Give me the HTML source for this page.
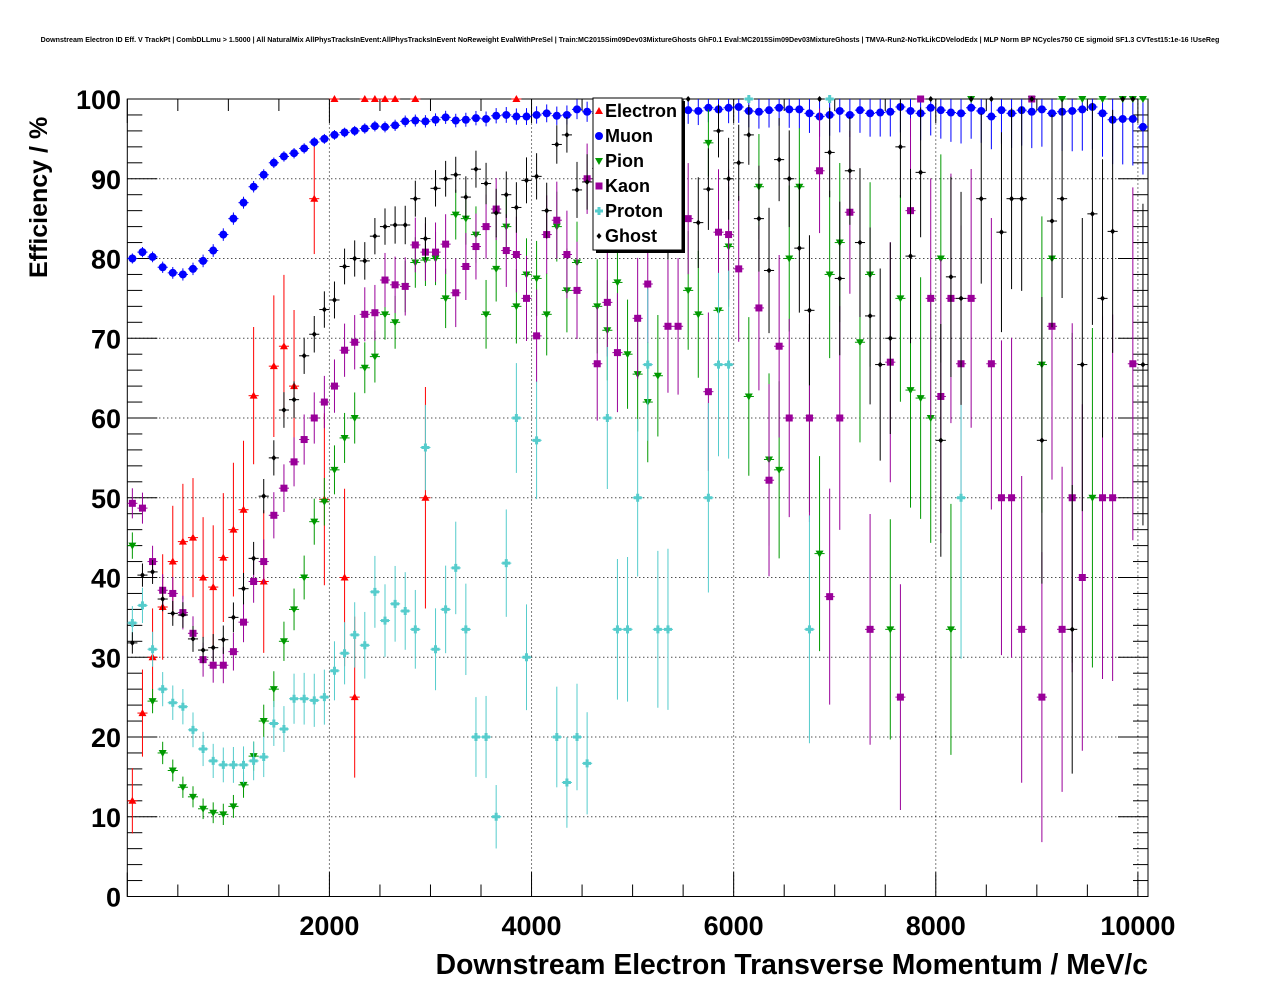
<!DOCTYPE html>
<html><head><meta charset="utf-8"><style>
body{margin:0;background:#fff;}
svg{display:block;font-family:"Liberation Sans",Arial,sans-serif;}
</style></head><body>
<svg id="chart" width="1276" height="996" viewBox="0 0 1276 996" xmlns="http://www.w3.org/2000/svg">
<rect width="1276" height="996" fill="#fff"/>
<text x="630" y="42" font-size="7.1" font-weight="bold" text-anchor="middle">Downstream Electron ID Eff. V TrackPt | CombDLLmu &gt; 1.5000 | All NaturalMix AllPhysTracksInEvent:AllPhysTracksInEvent NoReweight EvalWithPreSel | Train:MC2015Sim09Dev03MixtureGhosts GhF0.1 Eval:MC2015Sim09Dev03MixtureGhosts | TMVA-Run2-NoTkLikCDVelodEdx | MLP Norm BP NCycles750 CE sigmoid SF1.3 CVTest15:1e-16 !UseReg</text>
<g id="grid"></g>
<g id="axes"></g>
<g id="series"></g>
<text x="1148" y="974" font-size="28.3" font-weight="bold" text-anchor="end">Downstream Electron Transverse Momentum / MeV/c</text>
<text transform="translate(47,278) rotate(-90)" font-size="25" font-weight="bold">Efficiency / %</text>
<g id="legend"></g>
</svg>
<script>
const N=null;
const xTicks=[2000,4000,6000,8000,10000];
const yTicks=[0,10,20,30,40,50,60,70,80,90,100];
const seriesNames=["Electron","Muon","Pion","Kaon","Proton","Ghost"];
const muon=[80,80.8,80.2,78.9,78.2,78,78.7,79.7,81,83,85,87,89,90.5,92,92.8,93.2,93.8,94.6,95,95.5,95.8,96,96.3,96.6,96.5,96.7,97.2,97.3,97.2,97.4,97.7,97.3,97.4,97.6,97.5,97.9,98,97.8,97.8,98,98.2,97.9,98,98.7,98.4,98.2,98.6,98.5,98.7,98.8,98.5,98.4,98.7,98.6,98.6,98.5,98.9,98.7,98.9,99,98.5,98.4,98.6,98.9,98.7,98.7,98.2,97.8,98,98.5,98,98.6,98.2,98.3,98.4,99,98.5,98.2,98.9,98.6,98.3,98.2,98.9,98.5,97.8,98.6,98.2,98.6,98.4,98.7,98.2,98.4,98.5,98.7,99,98.2,97.4,97.5,97.5,96.5];
const electron=[12,23,30,36.3,42,44.5,45,40,38.8,42.5,46,48.5,62.8,39.5,66.5,69,64,N,87.5,49.8,100,40,25,100,100,100,100,N,100,50,N,N,N,N,N,N,N,N,100];
const pion=[44,N,24.5,18,15.8,13.7,12.5,11,10.5,10.3,11.3,14,17.6,22,26,32,36,40,47,49.5,53.5,57.5,60,66.3,67.7,73,72,76.5,79.5,79.8,80,75,85.5,85,83,73,78.7,84,74,78,77.5,73,84,76,79.5,N,74,71,77,68,65.5,62,65.3,N,N,76,73,94.5,73.5,81.5,N,62.7,89,54.8,53.5,80,89,60,43,78,82,N,69.5,78,N,33.5,75,63.5,62.5,60,80,33.5,N,100,N,N,N,N,N,100,66.7,80,100,50,100,50,100,N,100,100,100];
const kaon=[49.3,48.7,42,38.4,38,35.6,33,29.7,29,29,30.7,34.4,39.5,42,47.8,51.2,54.5,57.3,60,62,64,68.5,69.5,73,73.2,77.3,76.7,76.5,81.7,80.8,80.8,81.8,75.7,79,81.5,84,86.2,81,80.5,75,70.3,83,84.8,80.5,76,90,66.8,74.5,68.2,N,72.5,76.8,N,71.5,71.5,85,N,63.3,83.3,83,78.7,N,73.8,52.2,69,60,N,60,91,37.6,60,85.8,N,33.5,N,67,25,86,100,75,62.7,75,66.8,75,N,66.8,50,50,33.5,100,25,71.5,33.5,50,40,N,50,50,N,66.8,N];
const proton=[34.3,36.5,31,26,24.3,23.8,20.9,18.5,17,16.5,16.5,16.5,17,17.5,21.7,21,24.8,24.8,24.6,25,28.3,30.5,32.8,31.5,38.2,34.6,36.7,35.8,33.5,56.3,31,36,41.2,33.5,20,20,10,41.8,60,30,57.2,N,20,14.3,20,16.7,N,60,33.5,33.5,50,66.7,33.5,33.5,N,N,N,50,66.7,66.7,N,100,N,N,N,N,N,33.5,N,100,N,N,N,N,N,N,N,N,N,N,N,N,50];
const ghost=[31.8,40.3,40.7,37.3,35.5,35.3,32.3,30.9,31.2,32.2,35,38.6,42.4,50.2,55,61,62.3,67.8,70.5,73.6,74.8,79,80,79.7,82.8,84,84.2,84.2,87.5,82.5,88.8,90,90.5,87.7,91.2,89.4,85.7,88,86.4,89.8,90.3,86,94.3,95.5,88.6,89.6,91.3,88,91,89,87.6,86.7,92,85,95,100,84.5,88.7,96,90,92,95.5,85,78.5,92.4,90,81.3,73.5,100,93.3,77.5,91,82,72.8,66.7,70,94,80.3,90.8,100,57.2,77.7,75,100,87.5,100,83.3,87.5,87.5,100,57.2,84.7,87.5,33.5,66.7,85.6,75,83.4,100,100,66.7];
const statScale=[60,4000,900,700,500,1200];

const XMAX=10100;
const X0=127.3,X1=1148,Y0=896.5,Y1=99;
const xs=v=>X0+(v/XMAX)*(X1-X0);
const ys=v=>Y0-(v/100)*(Y0-Y1);
const NS="http://www.w3.org/2000/svg";
function mk(tag,attrs,parent){const e=document.createElementNS(NS,tag);for(const k in attrs)e.setAttribute(k,attrs[k]);parent.appendChild(e);return e;}
const grid=document.getElementById('grid'),axes=document.getElementById('axes'),ser=document.getElementById('series'),leg=document.getElementById('legend');

xTicks.forEach(t=>{const l=mk('line',{x1:xs(t),x2:xs(t),y1:Y0,y2:Y1,stroke:'#000','stroke-width':1,'stroke-dasharray':'1,3'},grid);

});
yTicks.forEach(t=>{const l=mk('line',{x1:X0,x2:X1,y1:ys(t),y2:ys(t),stroke:'#000','stroke-width':1,'stroke-dasharray':'1,3'},grid);

});

const fr=mk('rect',{x:X0,y:Y1,width:X1-X0,height:Y0-Y1,fill:'none',stroke:'#000','stroke-width':1},axes);


for(let v=0;v<=10000;v+=500){const big=v%2000===0;mk('line',{x1:xs(v),x2:xs(v),y1:Y0,y2:Y0-(big?24:12),stroke:'#000'},axes);
 mk('line',{x1:xs(v),x2:xs(v),y1:Y1,y2:Y1+(big?24:12),stroke:'#000'},axes);}
for(let v=0;v<=100;v+=2){const big=v%10===0;mk('line',{x1:X0,x2:X0+(big?30:15),y1:ys(v),y2:ys(v),stroke:'#000'},axes);
 mk('line',{x1:X1,x2:X1-(big?30:15),y1:ys(v),y2:ys(v),stroke:'#000'},axes);}
xTicks.forEach(t=>{const tx=mk('text',{x:xs(t),y:935,'font-size':27,'font-weight':'bold','text-anchor':'middle'},axes);tx.textContent=t;

});
yTicks.forEach(t=>{const tx=mk('text',{x:121,y:ys(t)+10,'font-size':27,'font-weight':'bold','text-anchor':'end'},axes);tx.textContent=t;

});

const colors=['#ff0000','#0000ff','#009900','#990099','#55cccc','#000000'];
function marker(type,cx,cy,col,parent){
  if(type===0)return mk('polygon',{points:`${cx},${cy-4} ${cx-4},${cy+3} ${cx+4},${cy+3}`,fill:col},parent);
  if(type===1)return mk('circle',{cx:cx,cy:cy,r:4,fill:col},parent);
  if(type===2)return mk('polygon',{points:`${cx-4},${cy-3} ${cx+4},${cy-3} ${cx},${cy+4}`,fill:col},parent);
  if(type===3)return mk('rect',{x:cx-3.5,y:cy-3.5,width:7,height:7,fill:col},parent);
  if(type===4)return mk('path',{d:`M${cx-4},${cy-1.5}h2.5v-2.5h3v2.5h2.5v3h-2.5v2.5h-3v-2.5h-2.5z`,fill:col},parent);
  return mk('polygon',{points:`${cx},${cy-3} ${cx+2.5},${cy} ${cx},${cy+3} ${cx-2.5},${cy}`,fill:col},parent);
}
const all=[electron,muon,pion,kaon,proton,ghost];
all.forEach((arr,si)=>{
  const g=mk('g',{},ser);
  
  
  const col=colors[si];
  arr.forEach((v,i)=>{
    if(v===null||v===undefined)return;
    const xc=(i+0.5)*100;
    const cx=xs(xc),cy=ys(v);
    const n=statScale[si]*Math.pow(0.94,i)+3;
    let e=100*Math.sqrt(Math.max(v*(100-v),400)/1e4/n);
    if(v>=99.9)e=0;
    const top=Math.min(100,v+e),bot=Math.max(0,v-e);
    mk('line',{x1:cx,x2:cx,y1:ys(top),y2:ys(bot),stroke:col,'stroke-width':1},g);
    mk('line',{x1:xs(xc-50),x2:xs(xc+50),y1:cy,y2:cy,stroke:col,'stroke-width':1},g);
    const m=marker(si,cx,cy,col,g);
    
    
  });
});

mk('rect',{x:596,y:101,width:89,height:152,fill:'#000'},leg);
const lb=mk('rect',{x:593,y:98,width:89,height:152,fill:'#fff',stroke:'#000','stroke-width':1},leg);


seriesNames.forEach((n,i)=>{
  const y=111+i*25;
  const g=mk('g',{},leg);
  
  
  marker(i,599,y,colors[i],g);
  const t=mk('text',{x:605,y:y+6,'font-size':18,'font-weight':'bold'},g);t.textContent=n;
});
</script>
</body></html>
